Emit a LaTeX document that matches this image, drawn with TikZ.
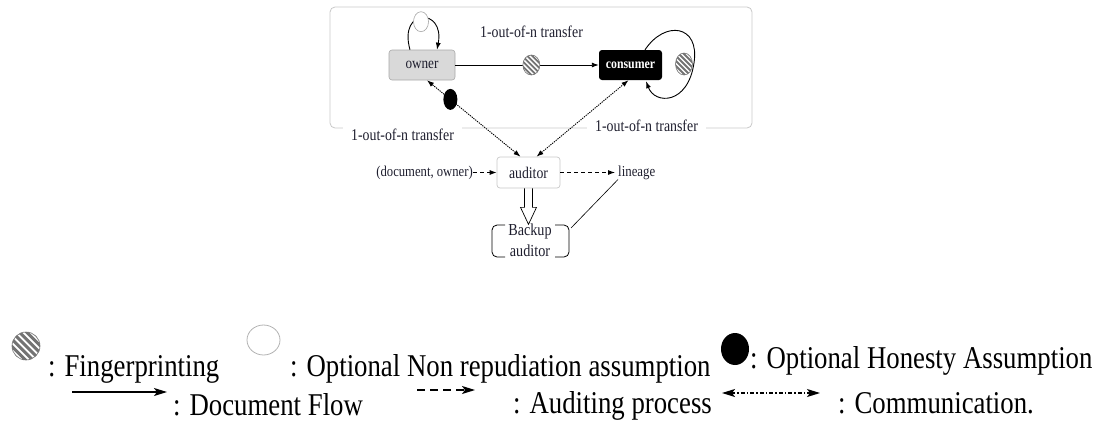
\documentclass[tikz,border=0pt]{standalone}
\usepackage{fontspec}
\setmainfont{Liberation Serif}[FakeStretch=0.845]
\usetikzlibrary{arrows.meta,shapes.geometric,calc}
\newcommand\myfs[1]{\fontsize{#1}{#1}\selectfont}
\definecolor{boxgray}{HTML}{C8C8C8}
\definecolor{ownerfill}{HTML}{D9D9D9}
\definecolor{ownerdraw}{HTML}{A8A8A8}
\definecolor{txt}{HTML}{1E1E2E}
\tikzset{
  box/.style={rectangle, rounded corners=3pt, inner sep=0pt, text=txt},
  flow/.style={line width=0.9pt, -{Latex[length=7pt,width=5pt]}},
  comm/.style={line width=0.9pt, dash pattern=on 1.3pt off 1pt, {Latex[length=7pt,width=5pt]}-{Latex[length=7pt,width=5pt]}},
  audit/.style={line width=0.9pt, dash pattern=on 4pt off 3pt, -{Latex[length=7pt,width=5pt]}},
  lbl/.style={text=txt, font=\myfs{16.4}, inner sep=0pt},
  lgtext/.style={text=black, font=\myfs{31.7}, inner sep=0pt},
  hatchc/.style n args={4}{ellipse, draw=black!55, line width=0.6pt, fill=white, inner sep=0pt,
    minimum width=#1, minimum height=#2,
    path picture={\foreach \k in {-6,...,6}{\draw[line width=#4]
      ($(path picture bounding box.center)+(\k*#3,\k*#3)$) ++(-30pt,30pt) -- ++(60pt,-60pt);}}},
  honest/.style 2 args={ellipse, fill=black, inner sep=0pt, minimum width=#1, minimum height=#2},
  lflow/.style={line width=1.5pt, -{Stealth[length=13pt,width=8pt,inset=3pt]}},
  laudit/.style={line width=1.5pt, dash pattern=on 8pt off 5pt, -{Stealth[length=13pt,width=8pt,inset=3pt]}},
  lcomm/.style={line width=1.5pt, dash pattern=on 4pt off 2pt on 1.5pt off 2pt, {Stealth[length=13pt,width=8pt,inset=3pt]}-{Stealth[length=13pt,width=8pt,inset=3pt]}}
}
\begin{document}
\begin{tikzpicture}[x=1pt,y=-1pt]
\useasboundingbox (0,0) rectangle (1099,421);
% outer frame
\draw[boxgray, line width=0.8pt, rounded corners=5pt] (330,7) rectangle (752,128);
\node[lbl, fill=white, inner xsep=8pt, inner ysep=2pt] (lblL) at (402.5,135) {1-out-of-n transfer};
\node[lbl, fill=white, inner xsep=8pt, inner ysep=2pt] (lblR) at (646.5,126) {1-out-of-n transfer};
\node[lbl] (lblT) at (531.5,32) {1-out-of-n transfer};
% boxes
\node[box, fill=ownerfill, draw=ownerdraw, line width=0.6pt, minimum width=66pt, minimum height=30pt, font=\myfs{15.6}] (owner) at (422,65) {owner};
\node[box, fill=black, text=white, minimum width=63pt, minimum height=30pt, font=\myfs{14}\bfseries] (consumer) at (630.5,65) {consumer};
\node[box, draw=boxgray, line width=0.7pt, fill=white, minimum width=63pt, minimum height=31pt, font=\myfs{16.3}] (aud) at (528.5,172.5) {auditor};
\node[lbl, font=\myfs{15}, anchor=east] (docown) at (473,172.5) {(document, owner)};
\node[lbl, font=\myfs{15.2}, anchor=base west] (lineage) at (618,176) {lineage};
\node[lbl, font=\fontsize{16.8}{21}\selectfont, align=center] (backup) at (530,240) {Backup\\auditor};
% owner -> consumer
\draw[flow] (owner) -- (consumer) node[hatchc={17pt}{20pt}{2.5pt}{1.9pt}, pos=0.53] (fp1) {};
% communication
\draw[comm] ([xshift=-8pt]aud.north) -- ([xshift=5pt]owner.south) node[honest={14pt}{21pt}, pos=0.75] (hon) {};
\draw[comm] ([xshift=8pt]aud.north) -- ([xshift=-2pt]consumer.south);
% owner loop
\draw[flow] ($(owner.north)+(-12,0)$) .. controls ($(owner.north)+(-24,-42)$) and ($(owner.north)+(23,-42)$) .. ($(owner.north)+(15,0)$);
\node[ellipse, draw=black!35, fill=white, line width=0.6pt, inner sep=0pt, minimum width=15pt, minimum height=20pt] (nonrep) at ($(owner.north)+(-1,-28)$) {};
% consumer loop
\draw[flow] ($(consumer.north)+(14.5,0)$) .. controls ($(consumer.north)+(34.5,-30)$) and ($(consumer.north)+(69.5,-25)$) .. ($(consumer.north)+(63.5,13)$) .. controls ($(consumer.north)+(57.5,55)$) and ($(consumer.north)+(24.5,55)$) .. ($(consumer.south)+(15.5,1)$);
\node[hatchc={17pt}{22pt}{2.5pt}{1.9pt}] (fp2) at (684,64) {};
% auditing
\draw[audit] (docown) -- (aud);
\draw[audit] (aud.east) -- ([xshift=-3pt]aud.east -| lineage.west);
% hollow arrow to backup
\draw[line width=0.7pt, line join=miter] ($(aud.south)+(-4,0)$) -- ++(0,19) -- ++(-4,0) -- ++(8,17) -- ++(8,-17) -- ++(-4,0) -- ++(0,-19);
% backup brackets
\draw[line width=0.8pt, rounded corners=5pt] ($(backup.center)+(-25,-15)$) -- ++(-13,0) -- ++(0,32) -- ++(13,0);
\draw[line width=0.8pt, rounded corners=5pt] ($(backup.center)+(25,-15)$) -- ++(14,0) -- ++(0,32) -- ++(-14,0);
\draw[line width=0.6pt] ($(backup.center)+(41,-12)$) -- (lineage.south west);
% legend row 1
\node[hatchc={28pt}{28pt}{3.6pt}{3pt}] (lgF) at (26,346) {};
\node[lgtext, anchor=base west] (lgFt) at (48,376) {: Fingerprinting};
\node[ellipse, draw=black!30, line width=0.8pt, minimum width=33pt, minimum height=30pt, inner sep=0pt] (lgN) at (263.5,340) {};
\node[lgtext, anchor=base west] (lgNt) at (290,376) {: Optional Non repudiation assumption};
\node[honest={28pt}{32pt}] (lgH) at (735,349) {};
\node[lgtext, anchor=base west] (lgHt) at (750,368) {: Optional Honesty Assumption};
% legend row 2
\coordinate (a1) at (72,392); \coordinate (a2) at (167,392);
\draw[lflow] (a1) -- (a2);
\node[lgtext, anchor=base west] (lgDt) at (173,415) {: Document Flow};
\coordinate (b1) at (417,390); \coordinate (b2) at (475,390);
\draw[laudit] (b1) -- (b2);
\node[lgtext, anchor=base west] (lgAt) at (513,413) {: Auditing process};
\coordinate (c1) at (722,393); \coordinate (c2) at (820,393);
\draw[lcomm] (c1) -- (c2);
\node[lgtext, anchor=base west] (lgCt) at (838,413) {: Communication.};
\end{tikzpicture}
\end{document}
